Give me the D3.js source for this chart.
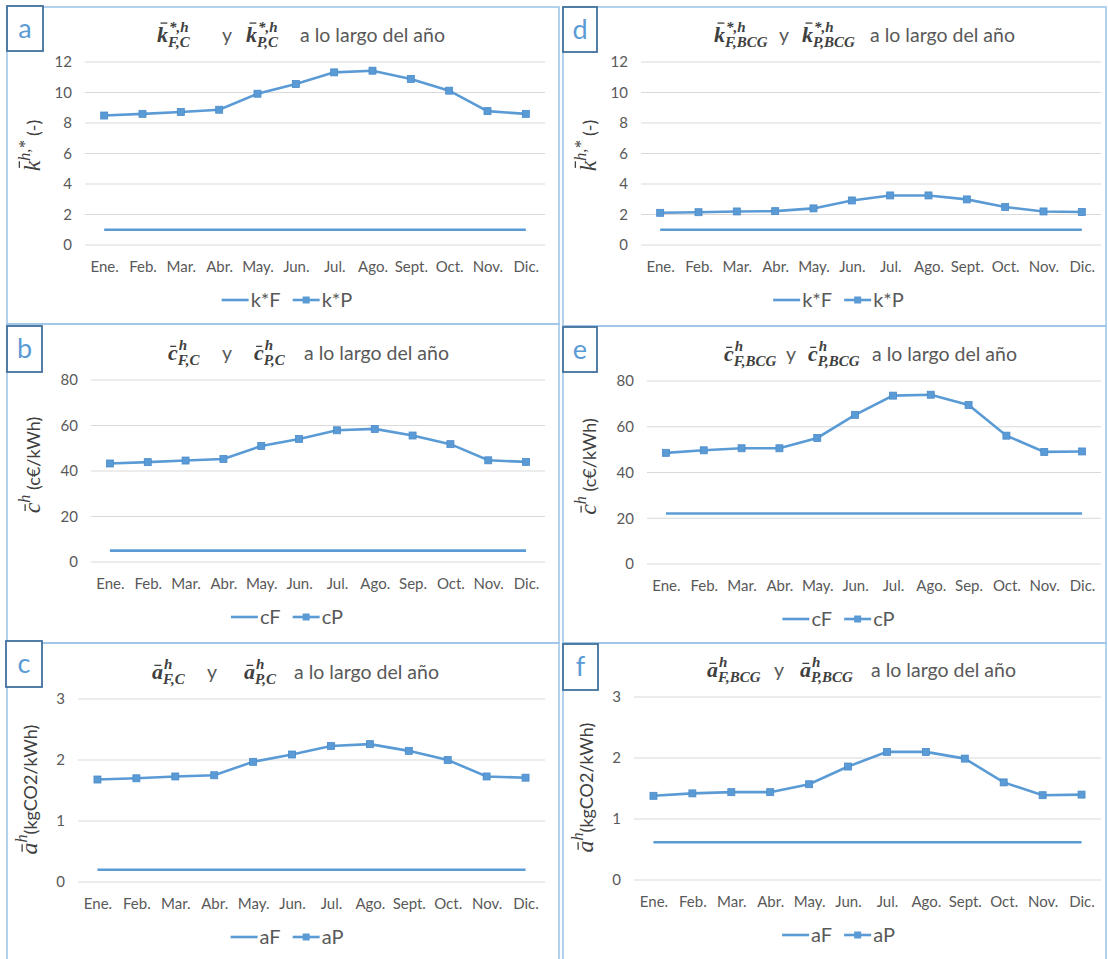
<!DOCTYPE html>
<html><head><meta charset="utf-8">
<script src="https://cdn.jsdelivr.net/npm/d3@7"></script>
<style>body{margin:0;background:#fff} svg{display:block}</style>
</head><body>
<svg id="chart" width="1108" height="959"></svg>
<script>
// ---------- data ----------
const monthsSept = ["Ene.","Feb.","Mar.","Abr.","May.","Jun.","Jul.","Ago.","Sept.","Oct.","Nov.","Dic."];
const monthsSep  = ["Ene.","Feb.","Mar.","Abr.","May.","Jun.","Jul.","Ago.","Sep.","Oct.","Nov.","Dic."];

const kF_C   = [1,1,1,1,1,1,1,1,1,1,1,1];
const kP_C   = [8.49,8.6,8.72,8.87,9.92,10.56,11.32,11.43,10.89,10.12,8.78,8.6];
const cF_C   = [5,5,5,5,5,5,5,5,5,5,5,5];
const cP_C   = [43.3,43.9,44.6,45.3,51.0,54.1,57.9,58.5,55.6,51.8,44.7,44.0];
const aF_C   = [0.2,0.2,0.2,0.2,0.2,0.2,0.2,0.2,0.2,0.2,0.2,0.2];
const aP_C   = [1.68,1.70,1.73,1.75,1.97,2.09,2.23,2.26,2.15,2.0,1.73,1.71];

const kF_BCG = [1,1,1,1,1,1,1,1,1,1,1,1];
const kP_BCG = [2.11,2.15,2.2,2.22,2.4,2.92,3.25,3.25,2.99,2.49,2.2,2.16];
const cF_BCG = [22.1,22.1,22.1,22.1,22.1,22.1,22.1,22.1,22.1,22.1,22.1,22.1];
const cP_BCG = [48.6,49.7,50.6,50.6,55.1,65.2,73.6,74.0,69.5,56.1,49.0,49.2];
const aF_BCG = [0.62,0.62,0.62,0.62,0.62,0.62,0.62,0.62,0.62,0.62,0.62,0.62];
const aP_BCG = [1.38,1.42,1.44,1.44,1.57,1.86,2.10,2.10,1.99,1.60,1.39,1.40];

const kTicks = [0,2,4,6,8,10,12];
const cTicks = [0,20,40,60,80];
const aTicks = [0,1,2,3];

// ---------- layout ----------
const panels = [
  {id:"a", box:[7,7,559,324], lbox:[7,6,36,45], plot:[85,62,545,245], cats:monthsSept, F:kF_C, P:kP_C, ticks:kTicks,
   names:["k*F","k*P"], title:{sym:"k", sup:"*,h", s1:"F,C", s2:"P,C", xs:[157,222,246,300]},
   ylab:{sym:"k", sup:"h,*", rest:" (-)", x:40, dy:-8}},
  {id:"b", box:[7,324,559,643], lbox:[7,326,35,46], plot:[91,380,545,562], cats:monthsSep, F:cF_C, P:cP_C, ticks:cTicks,
   names:["cF","cP"], title:{sym:"c", sup:"h", s1:"F,C", s2:"P,C", xs:[168,222,254,304]},
   ylab:{sym:"c", sup:"h", rest:" (c€/kWh)", x:40, dy:-6}},
  {id:"c", box:[7,643,559,962], lbox:[6,641,36,46], plot:[78,699,545,882], cats:monthsSept, F:aF_C, P:aP_C, ticks:aTicks,
   names:["aF","aP"], title:{sym:"a", sup:"h", s1:"F,C", s2:"P,C", xs:[152,207,244,294]},
   ylab:{sym:"a", sup:"h", rest:"(kgCO2/kWh)", x:37, dy:-1}},
  {id:"d", box:[563,7,1106,326], lbox:[563,7,34,45], plot:[641,62,1101,245], cats:monthsSept, F:kF_BCG, P:kP_BCG, ticks:kTicks,
   names:["k*F","k*P"], title:{sym:"k", sup:"*,h", s1:"F,BCG", s2:"P,BCG", xs:[714,779,802,870]},
   ylab:{sym:"k", sup:"h,*", rest:" (-)", x:596, dy:-8}},
  {id:"e", box:[563,326,1106,643], lbox:[563,327,34,45], plot:[647,381,1101,564], cats:monthsSep, F:cF_BCG, P:cP_BCG, ticks:cTicks,
   names:["cF","cP"], title:{sym:"c", sup:"h", s1:"F,BCG", s2:"P,BCG", xs:[724,786,808,872]},
   ylab:{sym:"c", sup:"h", rest:" (c€/kWh)", x:596, dy:-6}},
  {id:"f", box:[563,643,1106,962], lbox:[563,644,35,46], plot:[634,697,1101,880], cats:monthsSept, F:aF_BCG, P:aP_BCG, ticks:aTicks,
   names:["aF","aP"], title:{sym:"a", sup:"h", s1:"F,BCG", s2:"P,BCG", xs:[707,774,800,871]},
   ylab:{sym:"a", sup:"h", rest:"(kgCO2/kWh)", x:593, dy:-1}}
];

const BLUE = "#5B9BD5";
const SANS = "Lato, 'Open Sans', sans-serif";
const SERIF = "'Liberation Serif', 'DejaVu Serif', serif";
const svg = d3.select("#chart");
svg.append("rect").attr("width",1108).attr("height",959).attr("fill","#fff");

// overbar above the first glyph of a text node, given its baseline
function overbar(g, textNode, idx, sym, base, size, color){
  const e = textNode.getExtentOfChar(idx);
  const rise = (sym === "k" ? 0.86 : 0.62) * size;
  const yb = base - rise;
  const slant = sym === "k" ? 0.32 : 0.22;
  g.append("line").attr("x1", e.x + e.width*slant).attr("x2", e.x + e.width*(slant+0.62))
    .attr("y1", yb).attr("y2", yb).attr("stroke", color).attr("stroke-width", 1.3);
}

function mathTerm(g, x, base, sym, sup, sub){
  const size = 22;
  const t = g.append("text").attr("x", x).attr("y", base)
    .attr("font-family", SERIF).attr("font-style","italic").attr("font-weight","bold")
    .attr("font-size", size).attr("fill","#404040").text(sym);
  const w = t.node().getComputedTextLength();
  overbar(g, t.node(), 0, sym, base, size, "#404040");
  g.append("text").attr("x", x + w + 1).attr("y", base - 10)
    .attr("font-family", SERIF).attr("font-style","italic").attr("font-weight","bold")
    .attr("font-size", 15).attr("fill","#404040").text(sup);
  g.append("text").attr("x", x + w).attr("y", base + 5)
    .attr("font-family", SERIF).attr("font-style","italic").attr("font-weight","bold")
    .attr("font-size", 15).attr("fill","#404040").text(sub);
}

panels.forEach(p => {
  const g = svg.append("g").attr("class","panel-"+p.id);
  const [bx0,by0,bx1,by1] = p.box;
  g.append("rect").attr("x",bx0).attr("y",by0).attr("width",bx1-bx0).attr("height",by1-by0)
    .attr("fill","none").attr("stroke","#9DC3E6").attr("stroke-width",1.5);

  const [L,T,R,B] = p.plot;
  const x = d3.scalePoint().domain(p.cats).range([L,R]).padding(0.5);
  const y = d3.scaleLinear().domain([p.ticks[0], p.ticks[p.ticks.length-1]]).range([B,T]);

  // gridlines
  g.append("g").selectAll("line").data(p.ticks).join("line")
    .attr("x1",L).attr("x2",R).attr("y1",d=>y(d)).attr("y2",d=>y(d))
    .attr("stroke","#D9D9D9").attr("stroke-width",1);

  // axes
  const ya = g.append("g").attr("transform",`translate(${L},0)`)
    .call(d3.axisLeft(y).tickValues(p.ticks).tickSize(0).tickPadding(13).tickFormat(d3.format("d")));
  ya.select(".domain").remove();
  ya.selectAll("text").attr("font-family",SANS).attr("font-size",15).attr("fill","#595959");

  const xa = g.append("g").attr("transform",`translate(0,${B})`)
    .call(d3.axisBottom(x).tickSize(0).tickPadding(16));
  xa.select(".domain").remove();
  xa.selectAll("text").attr("font-family",SANS).attr("font-size",15).attr("fill","#595959");

  // series
  const line = d3.line().x((d,i)=>x(p.cats[i])).y(d=>y(d));
  g.append("path").datum(p.F).attr("d",line).attr("fill","none").attr("stroke",BLUE).attr("stroke-width",2.6);
  g.append("path").datum(p.P).attr("d",line).attr("fill","none").attr("stroke",BLUE).attr("stroke-width",2.6);
  g.append("g").selectAll("rect").data(p.P).join("rect")
    .attr("x",(d,i)=>x(p.cats[i])-3.5).attr("y",d=>y(d)-3.5).attr("width",7).attr("height",7)
    .attr("fill",BLUE).attr("stroke","#4A8BCB").attr("stroke-width",0.8);

  // legend
  const lg = g.append("g");
  const ly = B + 55;
  let cx = 0;
  p.names.forEach((n,i) => {
    const item = lg.append("g").attr("transform",`translate(${cx},0)`);
    item.append("line").attr("x1",0).attr("x2",27).attr("y1",0).attr("y2",0)
      .attr("stroke",BLUE).attr("stroke-width",2.6);
    if (i===1) item.append("rect").attr("x",10).attr("y",-3.5).attr("width",7).attr("height",7).attr("fill",BLUE);
    const t = item.append("text").attr("x",29).attr("y",7).attr("font-family",SANS).attr("font-size",20)
      .attr("fill","#595959").text(n);
    cx += 29 + t.node().getComputedTextLength() + 12;
  });
  const lw = cx - 12;
  const lcx = (bx0+bx1)/2 + 4;
  lg.attr("transform",`translate(${lcx - lw/2},${ly})`);

  // title
  const tb = T - 20;
  const tt = p.title;
  mathTerm(g, tt.xs[0], tb, tt.sym, tt.sup, tt.s1);
  g.append("text").attr("x",tt.xs[1]).attr("y",tb).attr("font-family",SANS).attr("font-size",19.5)
    .attr("fill","#595959").text("y");
  mathTerm(g, tt.xs[2], tb, tt.sym, tt.sup, tt.s2);
  g.append("text").attr("x",tt.xs[3]).attr("y",tb).attr("font-family",SANS).attr("font-size",19.5)
    .attr("fill","#595959").text("a lo largo del año");

  // y-axis label (rotated)
  const yl = p.ylab;
  const cy = (T+B)/2 + yl.dy;
  const yg = g.append("g").attr("transform",`translate(${yl.x},${cy}) rotate(-90)`);
  const yt = yg.append("text").attr("x",0).attr("y",0).attr("text-anchor","middle");
  yt.append("tspan").attr("font-family",SERIF).attr("font-style","italic").attr("font-size",24)
    .attr("fill","#404040").text(yl.sym);
  yt.append("tspan").attr("font-family",SERIF).attr("font-style","italic").attr("font-size",16)
    .attr("dy",-10).attr("fill","#404040").text(yl.sup);
  yt.append("tspan").attr("font-family",SANS).attr("font-size",18).attr("dy",10)
    .attr("fill","#404040").text(yl.rest);
  overbar(yg, yt.node(), 0, yl.sym, 0, 24, "#404040");

  // panel letter
  const [lx,lyb,lwid,lh] = p.lbox;
  g.append("rect").attr("x",lx).attr("y",lyb).attr("width",lwid).attr("height",lh)
    .attr("fill","#fff").attr("stroke","#41719C").attr("stroke-width",1.8);
  g.append("text").attr("x",lx+lwid/2).attr("y",lyb+lh/2+9).attr("text-anchor","middle")
    .attr("font-family",SANS).attr("font-size",27).attr("fill",BLUE).text(p.id);
});
</script>
</body></html>
